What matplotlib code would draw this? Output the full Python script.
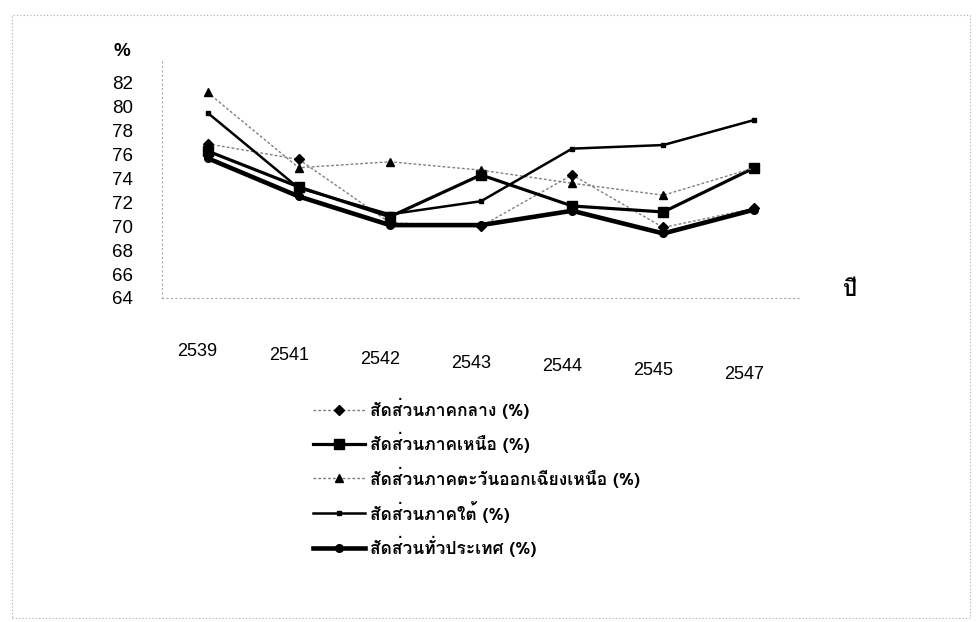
import matplotlib
matplotlib.use('Agg')
import matplotlib.pyplot as plt
from matplotlib.patches import Rectangle

years = ['2539', '2541', '2542', '2543', '2544', '2545', '2547']
central = [76.9, 75.6, 70.3, 70.0, 74.3, 69.9, 71.5]
north = [76.3, 73.3, 70.8, 74.3, 71.7, 71.2, 74.9]
northeast = [81.2, 74.9, 75.4, 74.7, 73.6, 72.6, 74.9]
south = [79.5, 73.2, 71.0, 72.1, 76.5, 76.8, 78.9]
country = [75.7, 72.5, 70.1, 70.1, 71.3, 69.4, 71.4]

names = ['สัดส่วนภาคกลาง', 'สัดส่วนภาคเหนือ', 'สัดส่วนภาคตะวันออกเฉียงเหนือ',
         'สัดส่วนภาคใต้', 'สัดส่วนทั่วประเทศ']
yticks = [64, 66, 68, 70, 72, 74, 76, 78, 80, 82]

thai = ['Loma', 'Sarabun', 'DejaVu Sans']
num = ['Liberation Sans', 'DejaVu Sans']

fig = plt.figure(figsize=(9.77, 6.22), dpi=100)
ax = fig.add_axes([162 / 977, 1 - 298 / 622, 638 / 977, 239 / 622])

x = list(range(len(years)))
ax.plot(x, central, color='#808080', lw=1, ls=(0, (2, 1.5)), marker='D', ms=5,
        mfc='black', mec='black', label=names[0])
ax.plot(x, north, color='black', lw=2.3, marker='s', ms=6.5, label=names[1])
ax.plot(x, northeast, color='#808080', lw=1, ls=(0, (2, 1.5)), marker='^', ms=6,
        mfc='black', mec='black', label=names[2])
ax.plot(x, south, color='black', lw=1.8, marker='s', ms=3.5, label=names[3])
ax.plot(x, country, color='black', lw=3.3, marker='o', ms=5.5, label=names[4])

ax.set_xlim(-0.5, len(years) - 0.5)
ax.set_ylim(64, 84)
ax.set_yticks(yticks)
ax.set_yticklabels([str(v) for v in yticks], family=num, fontsize=13.5)
ax.tick_params(axis='y', length=0, pad=21)
ax.set_xticks([])

for s in ['top', 'right']:
    ax.spines[s].set_visible(False)
for s in ['left', 'bottom']:
    ax.spines[s].set_color('#aaaaaa')
    ax.spines[s].set_linestyle((0, (1, 3)))
    ax.spines[s].set_linewidth(0.8)

# year labels drift down a little to the right, like the scan
for i, yr in enumerate(years):
    ax.annotate(yr, xy=(i, 0), xycoords=('data', 'axes fraction'),
                xytext=(-10, -54 - 3.7 * i), textcoords='offset pixels',
                ha='center', va='center', family=num, fontsize=13)

fig.text(122 / 977, 1 - 51 / 622, '%', ha='center', va='center',
         family=num, fontsize=13.5, fontweight='bold')
fig.text(850 / 977, 1 - 290 / 622, 'ปี', ha='center', va='center',
         family=thai, fontsize=16, fontweight='bold')

handles, labels = ax.get_legend_handles_labels()
leg = fig.legend(handles, [l + ' (%)' for l in labels], loc='upper left',
                 bbox_to_anchor=(313 / 977, 1 - 398 / 622), frameon=False,
                 handlelength=3.0, handletextpad=0.3, labelspacing=0.75,
                 borderpad=0, borderaxespad=0,
                 prop={'family': thai, 'size': 12.5, 'weight': 'bold'})

fig.patches.append(Rectangle((12 / 977, 4 / 622), 958 / 977, 603 / 622,
                             transform=fig.transFigure, fill=False,
                             ec='#aaaaaa', lw=0.8, ls=(0, (1, 2))))

fig.savefig('out.png', dpi=100)
